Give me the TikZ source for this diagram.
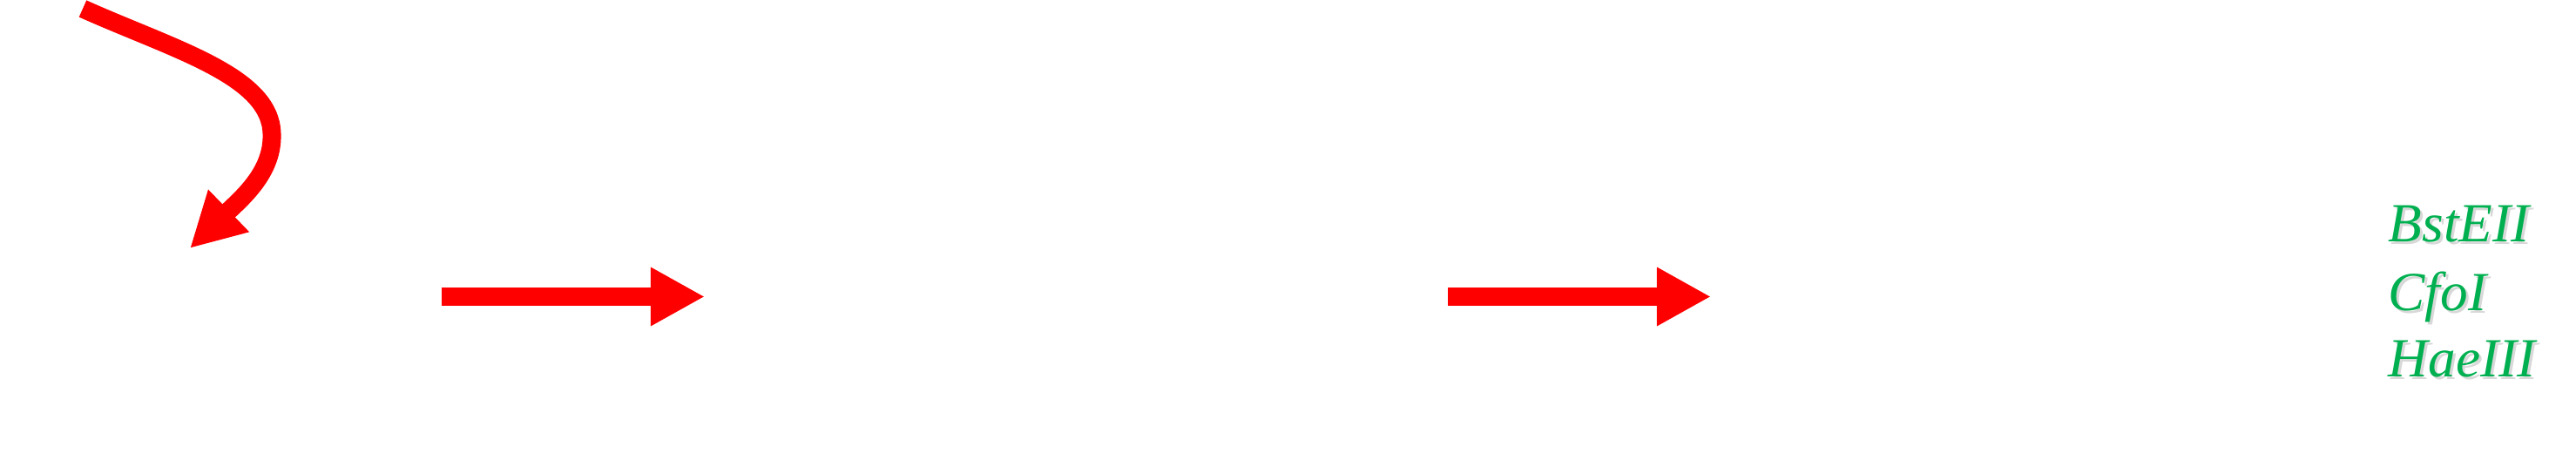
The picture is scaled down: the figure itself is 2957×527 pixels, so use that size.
\documentclass[tikz,border=0pt]{standalone}
\usepackage{fontspec}
\setmainfont{Liberation Serif}
\usetikzlibrary{arrows.meta, positioning}
\definecolor{enzgreen}{RGB}{0,176,80}

\begin{document}
\begin{tikzpicture}[x=0.01cm, y=0.01cm,
    bigarrow/.style={draw=red, line width=2.1mm, line cap=butt, -{Triangle[length=6.2mm, width=6.3mm]}},
    enzyme/.style={anchor=base west, inner sep=0pt, text=enzgreen, font=\fontsize{18pt}{22pt}\selectfont\itshape},
    enzshadow/.style={enzyme, text=black!30, opacity=0.5}]
    \useasboundingbox (0,0) rectangle (2957,527);
    % bent arrow at the upper left
    \coordinate (bstart) at (95,517);
    \coordinate (bturn) at (312,374);
    \coordinate (btip) at (218,242);
    \draw[bigarrow] (bstart) .. controls (200,470) and (310,440) .. (bturn)
        .. controls (314,330) and (278,300) .. (btip);
    % straight arrows
    \coordinate (a1s) at (507,186.5);
    \coordinate (a1e) at (809,186.5);
    \coordinate (a2s) at (1662,186.5);
    \coordinate (a2e) at (1964,186.5);
    \draw[bigarrow] (a1s) -- (a1e);
    \draw[bigarrow] (a2s) -- (a2e);
    % enzymes
    \node[enzshadow] (bstsh) at (2744,246) {BstEII};
    \node[enzshadow] (cfosh) at (2744,167) {CfoI};
    \node[enzshadow] (haesh) at (2744,91) {HaeIII};
    \node[enzyme] (bst) at (2741,249) {BstEII};
    \node[enzyme] (cfo) at (2741,170) {CfoI};
    \node[enzyme] (hae) at (2741,94) {HaeIII};
\end{tikzpicture}
\end{document}
